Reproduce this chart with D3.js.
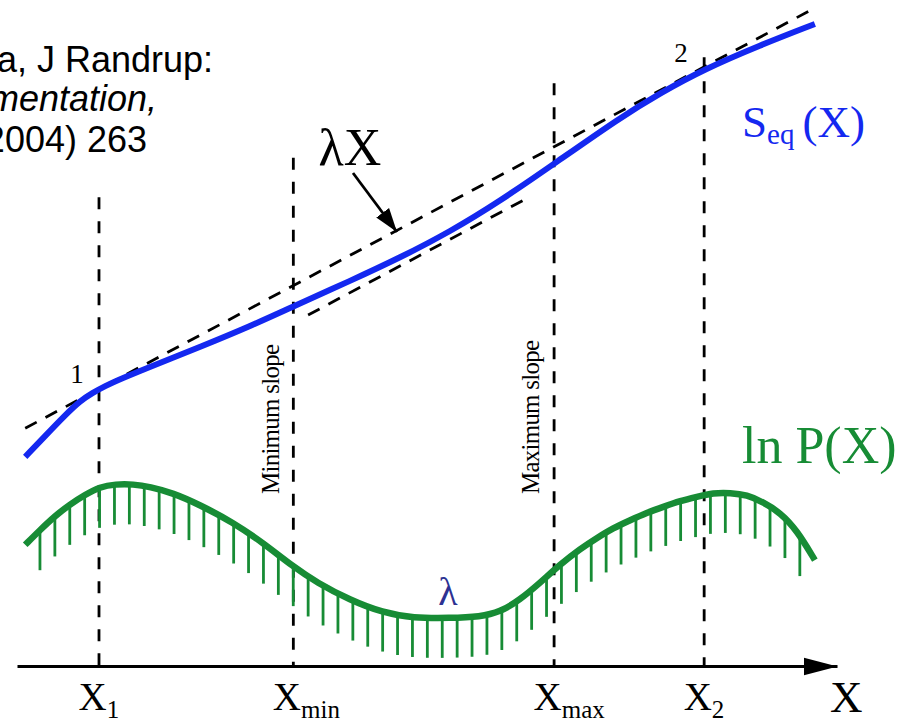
<!DOCTYPE html>
<html>
<head>
<meta charset="utf-8">
<script src="https://cdn.jsdelivr.net/npm/d3@7"></script>
<style>
  html, body { margin: 0; padding: 0; background: #fff; }
  svg { display: block; }
  .serif { font-family: 'Liberation Serif', 'Times New Roman', serif; }
  .cite { font-family: 'Liberation Sans', Arial, sans-serif; font-size: 36px; fill: #000; }
</style>
</head>
<body>
<svg id="chart" width="901" height="720"></svg>
<script>
// curve S_eq(X) (arbitrary units)
const seqX = [0.1, 0.34, 0.59, 0.77, 0.92, 1.07, 1.26, 1.74, 2.23, 2.84, 3.37, 4.06, 4.67, 5.28, 5.89, 6.55, 7.35, 7.84, 8.38, 9.06, 9.73]
const seqY = [3.14, 3.45, 3.77, 3.98, 4.1, 4.2, 4.31, 4.55, 4.79, 5.1, 5.4, 5.78, 6.13, 6.52, 6.98, 7.54, 8.23, 8.6, 8.96, 9.32, 9.64]

// curve ln P(X)
const lnpX = [0.1, 0.28, 0.46, 0.65, 0.83, 1.01, 1.2, 1.42, 1.62, 1.9, 2.23, 2.63, 3.0, 3.37, 3.66, 4.06, 4.46, 4.83, 5.28, 5.65, 5.89, 6.13, 6.38, 6.62, 6.87, 7.07, 7.27, 7.48, 7.68, 7.88, 8.09, 8.29, 8.49, 8.7, 8.9, 9.1, 9.31, 9.51, 9.73]
const lnpY = [1.82, 2.04, 2.25, 2.43, 2.57, 2.69, 2.73, 2.73, 2.69, 2.6, 2.42, 2.16, 1.85, 1.49, 1.25, 0.99, 0.8, 0.72, 0.72, 0.74, 0.81, 0.99, 1.25, 1.52, 1.76, 1.92, 2.07, 2.19, 2.3, 2.39, 2.48, 2.54, 2.6, 2.6, 2.57, 2.46, 2.3, 2.04, 1.59]

// the two tangents of slope lambda (end points)
const tangentX = [0.1, 9.73]
const tangentY = [3.57, 9.88]
const lowerX = [3.55, 6.23]
const lowerY = [5.27, 7.03]

// special points on the X axis
const tickValues = [1.0, 3.37, 6.55, 8.38]
const tickSubs = ['1', 'min', 'max', '2']
const tickTops = [7.04, 7.63, 8.75, 9.14]

// hatching under ln P
const hatchFrom = 0.28
const hatchTo = 9.56
const hatchStep = 0.1817
const hatchLen = 0.6

const blue = '#1428f0'
const green = '#178c35'

const svg = d3.select('#chart')

const x = d3.scaleLinear().domain([0, 10]).range([17, 837])
const y = d3.scaleLinear().domain([0, 10]).range([666, 0])

const defs = svg.append('defs')
defs.append('marker')
  .attr('id', 'arrow')
  .attr('markerUnits', 'userSpaceOnUse')
  .attr('viewBox', '0 0 24 18')
  .attr('refX', 24)
  .attr('refY', 9)
  .attr('markerWidth', 24)
  .attr('markerHeight', 18)
  .attr('orient', 'auto')
  .append('path')
  .attr('d', 'M0,1L24,9L0,17Z')
  .attr('fill', '#000')

defs.append('marker')
  .attr('id', 'axisArrow')
  .attr('markerUnits', 'userSpaceOnUse')
  .attr('viewBox', '0 0 34 20')
  .attr('refX', 34)
  .attr('refY', 10)
  .attr('markerWidth', 34)
  .attr('markerHeight', 20)
  .attr('orient', 'auto')
  .append('path')
  .attr('d', 'M0,1L34,10L0,19Z')
  .attr('fill', '#000')

// citation fragment, cut by the left edge
const cite = svg.append('g').attr('class', 'cite')
cite.append('text').attr('x', 213).attr('y', 72).attr('text-anchor', 'end').text('a, J Randrup:')
cite.append('text').attr('x', 157).attr('y', 111).attr('text-anchor', 'end')
  .style('font-style', 'italic').text('mentation,')
cite.append('text').attr('x', 147).attr('y', 152).attr('text-anchor', 'end').text('2004) 263')

// vertical dashed markers
svg.append('g')
  .selectAll('line')
  .data(tickValues)
  .enter()
  .append('line')
  .attr('x1', (d) => x(d))
  .attr('x2', (d) => x(d))
  .attr('y1', (d, i) => y(tickTops[i]))
  .attr('y2', y(0))
  .attr('stroke', '#000')
  .attr('stroke-width', 2.8)
  .attr('stroke-dasharray', '12,12')

// tangent lines
const line = d3.line().x((d) => x(d[0])).y((d) => y(d[1]))
const dashed = [d3.zip(tangentX, tangentY), d3.zip(lowerX, lowerY)]
svg.append('g')
  .selectAll('path')
  .data(dashed)
  .enter()
  .append('path')
  .attr('d', line)
  .attr('fill', 'none')
  .attr('stroke', '#000')
  .attr('stroke-width', 2.8)
  .attr('stroke-dasharray', '13,10')

// ln P curve + hatching
const smooth = d3.line().x((d) => x(d[0])).y((d) => y(d[1])).curve(d3.curveBasis)

const lnpPath = svg.append('path')
  .datum(d3.zip(lnpX, lnpY))
  .attr('d', smooth)
  .attr('fill', 'none')
  .attr('stroke', green)
  .attr('stroke-width', 6.5)

const node = lnpPath.node()
const total = node.getTotalLength()
// find the curve height at a pixel x by bisection along the path
const curveAt = (px) => {
  let lo = 0, hi = total
  for (let k = 0; k < 40; k++) {
    const mid = (lo + hi) / 2
    if (node.getPointAtLength(mid).x < px) lo = mid
    else hi = mid
  }
  return node.getPointAtLength(lo).y
}

svg.append('g')
  .selectAll('line')
  .data(d3.range(hatchFrom, hatchTo, hatchStep))
  .enter()
  .append('line')
  .attr('x1', (d) => x(d))
  .attr('x2', (d) => x(d))
  .attr('y1', (d) => curveAt(x(d)))
  .attr('y2', (d) => y(y.invert(curveAt(x(d))) - hatchLen))
  .attr('stroke', green)
  .attr('stroke-width', 2.8)

// S_eq curve
svg.append('path')
  .datum(d3.zip(seqX, seqY))
  .attr('d', smooth)
  .attr('fill', 'none')
  .attr('stroke', blue)
  .attr('stroke-width', 6)

// X axis with arrow
const axis = d3.axisBottom(x)
  .tickValues(tickValues)
  .tickSize(0)
  .tickSizeOuter(0)
  .tickFormat('')

const gx = svg.append('g')
  .attr('transform', `translate(0, ${y(0)})`)
  .call(axis)

gx.select('.domain')
  .attr('stroke', '#000')
  .attr('stroke-width', 3)
  .attr('marker-end', 'url(#axisArrow)')

gx.selectAll('.tick text').remove()
gx.selectAll('.tick')
  .append('text')
  .attr('class', 'serif')
  .attr('x', -21)
  .attr('y', 44)
  .attr('text-anchor', 'start')
  .attr('fill', '#000')
  .style('font-size', '39px')
  .each(function(d, i) {
    const t = d3.select(this)
    t.append('tspan').text('X')
    t.append('tspan').attr('dy', 8).style('font-size', '25px').text(tickSubs[i])
  })

svg.append('text')
  .attr('class', 'serif')
  .attr('x', 830)
  .attr('y', 712)
  .style('font-size', '45px')
  .text('X')

// annotations
const ann = svg.append('g').attr('class', 'serif')

ann.append('text')
  .attr('x', 350).attr('y', 165)
  .attr('text-anchor', 'middle')
  .style('font-size', '52px')
  .text('λX')

ann.append('line')
  .attr('x1', 353).attr('y1', 173)
  .attr('x2', 397).attr('y2', 232)
  .attr('stroke', '#000')
  .attr('stroke-width', 2.8)
  .attr('marker-end', 'url(#arrow)')

ann.append('text').attr('x', 77).attr('y', 383).attr('text-anchor', 'middle')
  .style('font-size', '27px').text('1')
ann.append('text').attr('x', 681).attr('y', 62).attr('text-anchor', 'middle')
  .style('font-size', '27px').text('2')

ann.append('text')
  .attr('transform', `translate(${x(tickValues[1]) - 14}, 494) rotate(-90)`)
  .style('font-size', '25px')
  .attr('textLength', 150)
  .text('Minimum slope')

ann.append('text')
  .attr('transform', `translate(${x(tickValues[2]) - 15}, 494) rotate(-90)`)
  .style('font-size', '25px')
  .attr('textLength', 154)
  .text('Maximum slope')

const seqLabel = ann.append('text')
  .attr('x', 742).attr('y', 137)
  .attr('fill', blue)
  .style('font-size', '45px')
seqLabel.append('tspan').text('S')
seqLabel.append('tspan').attr('dy', 7).style('font-size', '29px').text('eq')
seqLabel.append('tspan').attr('dy', -7).attr('dx', 8).text('(X)')

ann.append('text')
  .attr('x', 742).attr('y', 463)
  .attr('fill', green)
  .style('font-size', '52px')
  .text('ln P(X)')

ann.append('text')
  .attr('x', 448).attr('y', 605)
  .attr('text-anchor', 'middle')
  .attr('fill', '#2d3192')
  .style('font-size', '40px')
  .text('λ')
</script>
</body>
</html>
